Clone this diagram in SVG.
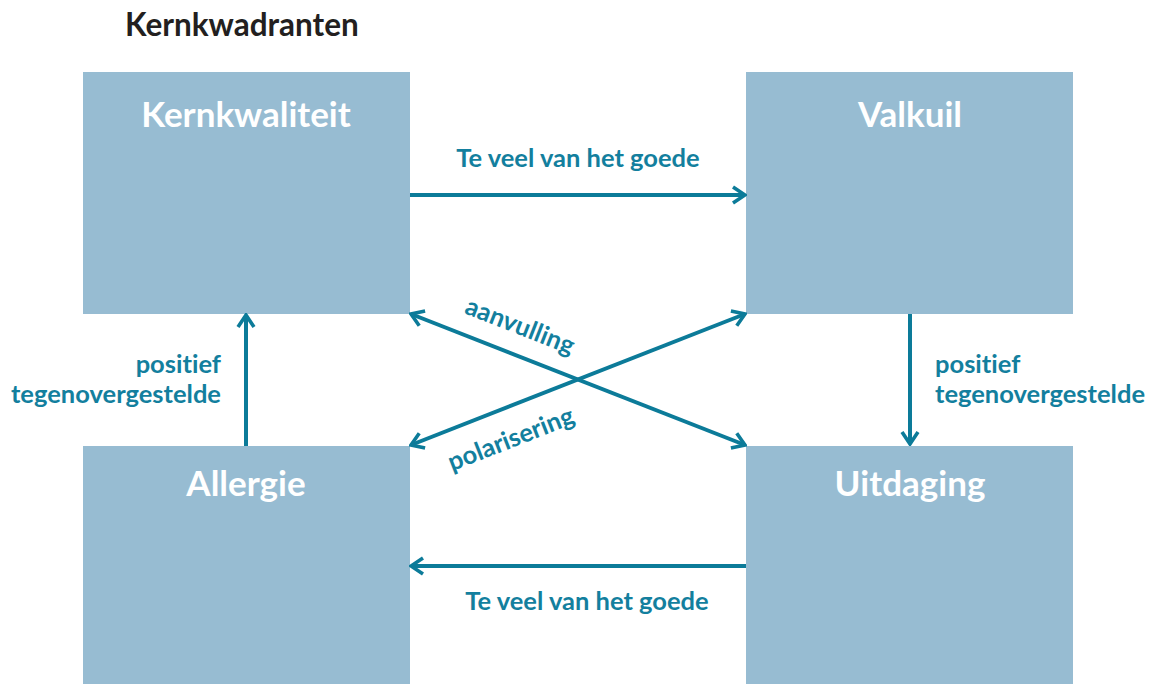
<svg xmlns="http://www.w3.org/2000/svg" width="1155" height="684" viewBox="0 0 1155 684">
<style>
text{font-variant-ligatures:none}
.box{fill:#97bcd2}
.bt{font-family:Lato,"Open Sans",sans-serif;font-weight:bold;font-size:35px;fill:#ffffff;text-anchor:middle}
.lbl{font-family:Lato,"Open Sans",sans-serif;font-weight:bold;font-size:25.5px;fill:#137f9e}
.ln{stroke:#0c7b99;stroke-width:4;fill:none}
</style>
<defs>
<marker id="ah" viewBox="0 0 20 20" refX="18" refY="10" markerWidth="20" markerHeight="20" markerUnits="userSpaceOnUse" orient="auto-start-reverse">
<path d="M6,2 L18,10 L6,18" fill="none" stroke="#0c7b99" stroke-width="3.6"/>
</marker>
</defs>
<rect width="1155" height="684" fill="#ffffff"/>
<text x="125" y="36" font-family="Lato,'Open Sans',sans-serif" font-weight="bold" font-size="31.5" fill="#231f20">Kernkwadranten</text>
<g id="kernkwaliteit"><rect class="box" x="83" y="72" width="327" height="242"/><text class="bt" x="246" y="127">Kernkwaliteit</text></g>
<g id="valkuil"><rect class="box" x="746" y="72" width="327" height="242"/><text class="bt" x="910" y="127">Valkuil</text></g>
<g id="allergie"><rect class="box" x="83" y="446" width="327" height="238"/><text class="bt" x="246" y="496">Allergie</text></g>
<g id="uitdaging"><rect class="box" x="746" y="446" width="327" height="238"/><text class="bt" x="910" y="496">Uitdaging</text></g>
<g id="connectors">
<line class="ln" x1="410" y1="195" x2="745" y2="195" marker-end="url(#ah)"/>
<line class="ln" x1="746" y1="566" x2="411" y2="566" marker-end="url(#ah)"/>
<line class="ln" x1="246" y1="446" x2="246" y2="315" marker-end="url(#ah)"/>
<line class="ln" x1="910" y1="314" x2="910" y2="444" marker-end="url(#ah)"/>
<line class="ln" x1="411" y1="314" x2="745" y2="445" marker-start="url(#ah)" marker-end="url(#ah)"/>
<line class="ln" x1="745" y1="314" x2="411" y2="445" marker-start="url(#ah)" marker-end="url(#ah)"/>
<text class="lbl" x="578" y="167" text-anchor="middle">Te veel van het goede</text>
<text class="lbl" x="587" y="610" text-anchor="middle">Te veel van het goede</text>
<text class="lbl" x="221" y="373" text-anchor="end">positief</text>
<text class="lbl" x="221" y="403" text-anchor="end">tegenovergestelde</text>
<text class="lbl" x="935" y="373">positief</text>
<text class="lbl" x="935" y="403">tegenovergestelde</text>
<text class="lbl" x="517" y="334" text-anchor="middle" transform="rotate(21.45 517 334)">aanvulling</text>
<text class="lbl" x="514" y="447" text-anchor="middle" transform="rotate(-21.45 514 447)">polarisering</text>
</g>
</svg>
